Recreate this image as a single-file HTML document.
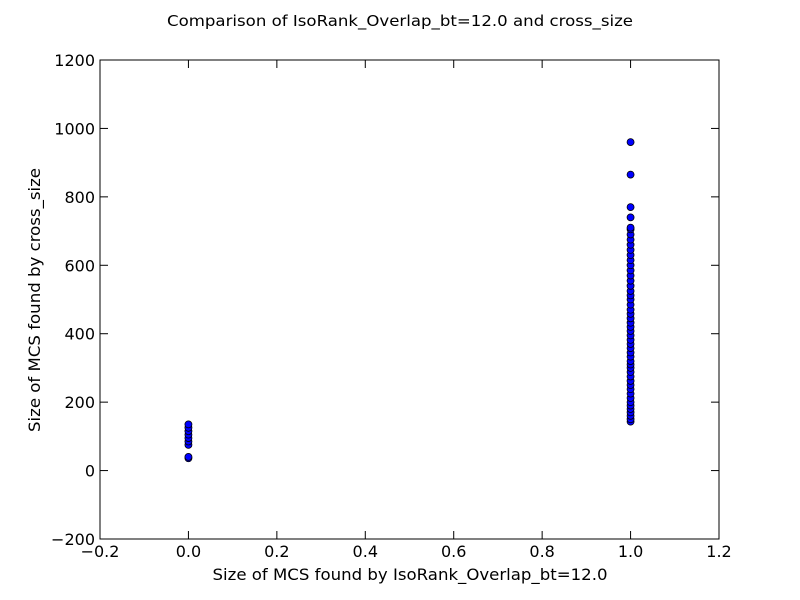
<!DOCTYPE html>
<html><head><meta charset="utf-8"><style>
body{margin:0;background:#fff;}
svg{display:block;font-family:"DejaVu Sans","Liberation Sans",sans-serif;}
</style></head><body>
<svg id="chart" width="800" height="600">
<rect width="800" height="600" fill="#fff"/>
<text x="400" y="26" text-anchor="middle" font-size="15" textLength="466" lengthAdjust="spacingAndGlyphs">Comparison of IsoRank_Overlap_bt=12.0 and cross_size</text>
<g id="ticks"></g>
<g id="points"></g>
<rect x="100" y="60" width="619" height="479" fill="none" stroke="#000" stroke-width="1"/>
<text x="410" y="580" text-anchor="middle" font-size="16" textLength="395" lengthAdjust="spacingAndGlyphs">Size of MCS found by IsoRank_Overlap_bt=12.0</text>
<text transform="translate(40,300) rotate(-90)" text-anchor="middle" font-size="16" textLength="264" lengthAdjust="spacingAndGlyphs">Size of MCS found by cross_size</text>
</svg>
<script>
const xTicks=[-0.2,0,0.2,0.4,0.6,0.8,1.0,1.2];
const xTickLabels=["\u22120.2","0.0","0.2","0.4","0.6","0.8","1.0","1.2"];
const yTicks=[-200,0,200,400,600,800,1000,1200];
const yTickLabels=["\u2212200","0","200","400","600","800","1000","1200"];
const xGroup0=[0,0,0,0,0,0,0,0,0];
const yGroup0=[36,40,75,85,95,105,115,125,135];
const yGroup1=[143,150,160,170,180,190,200,212,225,238,250,262,275,288,300,310,320,333,345,358,370,382,395,408,420,432,445,458,470,485,500,512,525,540,555,570,585,600,615,630,645,660,675,690,705,710,740,770,865,960];
const X=v=>100+(v+0.2)/1.4*619;
const Y=v=>539-(v+200)/1400*479;
const ns="http://www.w3.org/2000/svg";
const tg=document.getElementById('ticks'),pg=document.getElementById('points');
function mk(tag,attrs,parent){const e=document.createElementNS(ns,tag);for(const k in attrs)e.setAttribute(k,attrs[k]);parent.appendChild(e);return e;}
xTicks.forEach((t,i)=>{const x=X(t);
 const l1=mk('line',{x1:x,x2:x,y1:539,y2:531,stroke:'#000'},tg);
 
 
 mk('line',{x1:x,x2:x,y1:60,y2:68,stroke:'#000'},tg);
 const t1=mk('text',{x:x,y:557,'text-anchor':'middle','font-size':16},tg);t1.textContent=xTickLabels[i];
 
 
});
yTicks.forEach((t,i)=>{const y=Y(t);
 const l1=mk('line',{x1:100,x2:108,y1:y,y2:y,stroke:'#000'},tg);
 
 
 mk('line',{x1:711,x2:719,y1:y,y2:y,stroke:'#000'},tg);
 const t1=mk('text',{x:95,y:y+6,'text-anchor':'end','font-size':16},tg);t1.textContent=yTickLabels[i];
 
 
});
yGroup0.forEach((v,i)=>{const c=mk('circle',{cx:X(xGroup0[i]),cy:Y(v),r:3.5,fill:'#0000ff',stroke:'#000','stroke-width':0.8},pg);
 
 
});
yGroup1.forEach(v=>{const c=mk('circle',{cx:X(1),cy:Y(v),r:3.5,fill:'#0000ff',stroke:'#000','stroke-width':0.8},pg);
 
 
});
</script>
</body></html>
